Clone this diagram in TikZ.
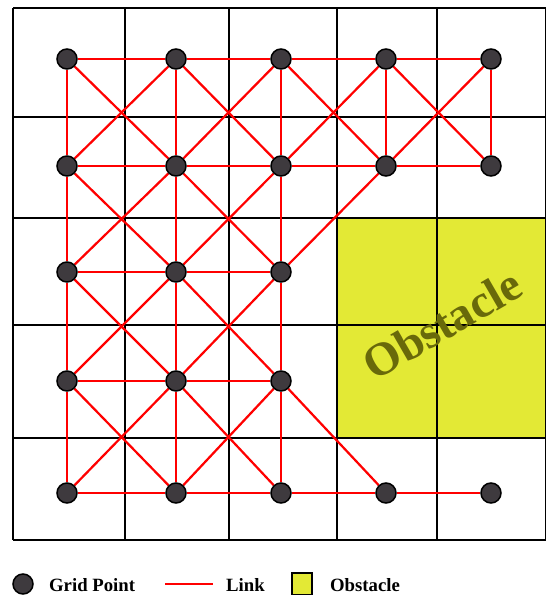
\documentclass[tikz,border=0pt]{standalone}
\usepackage{fontspec}
\setmainfont{Liberation Serif}
\usepackage{xcolor}
\usepackage{tikz}
\usetikzlibrary{positioning, backgrounds}
\definecolor{pointgray}{RGB}{62,58,62}
\definecolor{obstyellow}{RGB}{227,233,53}
\definecolor{obstolive}{RGB}{105,105,10}

\begin{document}
\begin{tikzpicture}[x=0.3mm,y=-0.3mm,
        cell/.style={draw=black,line width=1.5pt},
        gpoint/.style={circle,draw=black,fill=pointgray,line width=1.3pt,
                       minimum size=6mm,inner sep=0pt},
        link/.style={draw=red,line width=1.9pt},
        legend/.style={anchor=base west,font=\bfseries\fontsize{16}{18}\selectfont}]
  \useasboundingbox (0,0) rectangle (546,595);

  % grid points (column, row)
  \foreach \c/\x in {1/67,2/176,3/281,4/386,5/491}
    \foreach \r/\y in {1/59,2/166,3/272,4/381,5/493}
      \coordinate (p\c\r) at (\x,\y);
  \foreach \n in {11,21,31,41,51,12,22,32,42,52,13,23,33,14,24,34,15,25,35,45,55}
    \node[gpoint] (g\n) at (p\n) {};

  \begin{scope}[on background layer]
    % obstacle cells and grid
    \fill[obstyellow] (337,218) rectangle (546,438);
    \foreach \x in {13,125,229,337,437,546}
      \draw[cell] (\x,8) -- (\x,540);
    \foreach \y in {8,117,218,325,438,540}
      \draw[cell] (13,\y) -- (546,\y);

    % links
    \foreach \a/\b in {11/21,21/31,31/41,41/51,12/22,22/32,32/42,42/52,
                       13/23,23/33,14/24,24/34,15/25,25/35,35/45,45/55}
      \draw[link] (g\a) -- (g\b);
    \foreach \a/\b in {11/12,21/22,31/32,41/42,51/52,12/13,22/23,32/33,
                       13/14,23/24,33/34,14/15,24/25,34/35}
      \draw[link] (g\a) -- (g\b);
    \foreach \a/\b in {11/22,21/12,21/32,31/22,31/42,41/32,41/52,51/42,
                       12/23,22/13,22/33,32/23,42/33,
                       13/24,23/14,23/34,33/24,
                       14/25,24/15,24/35,34/25,34/45}
      \draw[link] (g\a) -- (g\b);
  \end{scope}

  \node[rotate=30,text=obstolive,font=\bfseries\fontsize{40}{44}\selectfont]
    (obsttext) at (442,324) {Obstacle};

  % legend
  \node[gpoint] (keypoint) at (23,584) {};
  \node[legend] (keypointtext) at (45,591) {Grid Point};
  \coordinate (linkstart) at (165,584);
  \coordinate (linkend) at (213,584);
  \draw[link] (linkstart) -- (linkend);
  \node[legend] (keylinktext) at (222,591) {Link};
  \node[draw=black,line width=1.3pt,fill=obstyellow,minimum width=6mm,
        minimum height=6.6mm,inner sep=0pt] (keyobst) at (302,584) {};
  \node[legend] (keyobsttext) at (326,591) {Obstacle};
\end{tikzpicture}
\end{document}
